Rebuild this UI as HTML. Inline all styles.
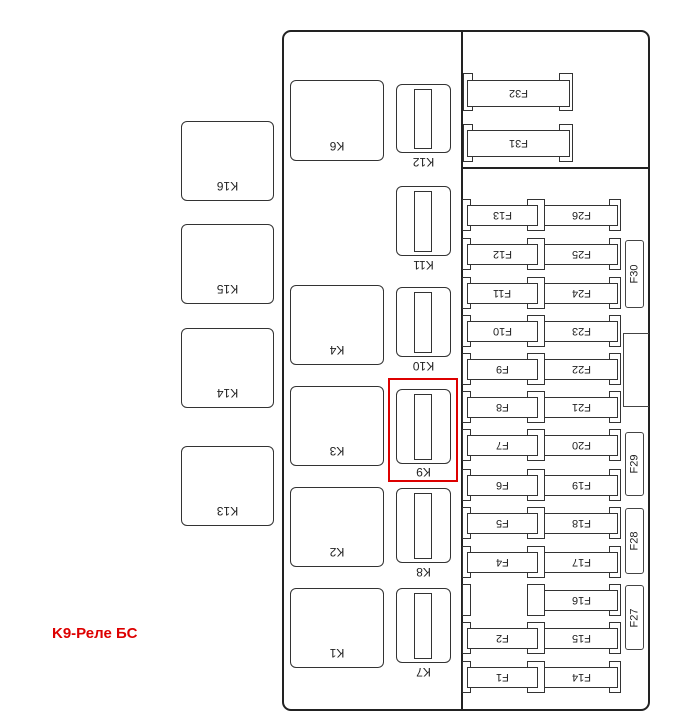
<!DOCTYPE html>
<html><head><meta charset="utf-8"><style>
body{margin:0;width:697px;height:728px;background:#fff;position:relative;overflow:hidden;font-family:"Liberation Sans",sans-serif}
div{position:absolute;box-sizing:border-box}
.box{border:1.5px solid #333;border-radius:6px;background:#fff}
.lab{font-size:12px;color:#222;transform:rotate(180deg);text-align:center;line-height:12px}
.t{border:1.5px solid #333;background:#fff;width:9px;height:32px}
.b{border:1.5px solid #333;background:#fff;height:21px;font-size:11px;color:#222;text-align:center;line-height:18px}
.b span{display:inline-block;transform:rotate(180deg)}
.v{border:1.3px solid #444;border-radius:3px;background:#fff;width:19px}
.v span{position:absolute;left:2px;top:50%;font-size:11px;transform:translate(-3px,-50%) rotate(-90deg);white-space:nowrap;color:#222}
</style></head><body>
<div style="left:282px;top:30px;width:368px;height:681px;border:2px solid #222;border-radius:9px"></div>
<div style="left:461px;top:31px;width:2px;height:680px;background:#222"></div>
<div style="left:462px;top:167px;width:187px;height:2px;background:#222"></div>

<!-- left relays -->
<div class="box" style="left:181px;top:121px;width:93px;height:80px"><div class="lab" style="left:0;right:0;top:58px">K16</div></div>
<div class="box" style="left:181px;top:224px;width:93px;height:80px"><div class="lab" style="left:0;right:0;top:58px">K15</div></div>
<div class="box" style="left:181px;top:328px;width:93px;height:80px"><div class="lab" style="left:0;right:0;top:58px">K14</div></div>
<div class="box" style="left:181px;top:446px;width:93px;height:80px"><div class="lab" style="left:0;right:0;top:58px">K13</div></div>

<div class="box" style="left:290px;top:80px;width:94px;height:81px"><div class="lab" style="left:0;right:0;top:59px">K6</div></div>
<div class="box" style="left:290px;top:285px;width:94px;height:80px"><div class="lab" style="left:0;right:0;top:58px">K4</div></div>
<div class="box" style="left:290px;top:386px;width:94px;height:80px"><div class="lab" style="left:0;right:0;top:58px">K3</div></div>
<div class="box" style="left:290px;top:487px;width:94px;height:80px"><div class="lab" style="left:0;right:0;top:58px">K2</div></div>
<div class="box" style="left:290px;top:588px;width:94px;height:80px"><div class="lab" style="left:0;right:0;top:58px">K1</div></div>

<!-- small relays -->
<div class="box" style="left:396px;top:84px;width:55px;height:69px"><div style="left:17px;top:4px;width:18px;height:60px;border:1.3px solid #333"></div></div><div class="lab" style="left:396px;width:55px;top:156px">K12</div>
<div class="box" style="left:396px;top:186px;width:55px;height:70px"><div style="left:17px;top:4px;width:18px;height:61px;border:1.3px solid #333"></div></div><div class="lab" style="left:396px;width:55px;top:259px">K11</div>
<div class="box" style="left:396px;top:287px;width:55px;height:70px"><div style="left:17px;top:4px;width:18px;height:61px;border:1.3px solid #333"></div></div><div class="lab" style="left:396px;width:55px;top:360px">K10</div>
<div class="box" style="left:396px;top:389px;width:55px;height:75px"><div style="left:17px;top:4px;width:18px;height:66px;border:1.3px solid #333"></div></div><div class="lab" style="left:396px;width:55px;top:466px">K9</div>
<div class="box" style="left:396px;top:488px;width:55px;height:75px"><div style="left:17px;top:4px;width:18px;height:66px;border:1.3px solid #333"></div></div><div class="lab" style="left:396px;width:55px;top:566px">K8</div>
<div class="box" style="left:396px;top:588px;width:55px;height:75px"><div style="left:17px;top:4px;width:18px;height:66px;border:1.3px solid #333"></div></div><div class="lab" style="left:396px;width:55px;top:666px">K7</div>

<div style="left:388px;top:378px;width:70px;height:104px;border:2.5px solid #d00"></div>
<div style="left:52px;top:625px;color:#d00;font-weight:bold;font-size:15px">K9-Реле БС</div>

<!-- F32/F31 -->
<div class="t" style="left:463px;top:73px;width:10px;height:38px"></div><div class="t" style="left:559px;top:73px;width:14px;height:38px"></div>
<div class="b" style="left:467px;top:80px;width:103px;height:27px;line-height:24px"><span>F32</span></div>
<div class="t" style="left:463px;top:124px;width:10px;height:38px"></div><div class="t" style="left:559px;top:124px;width:14px;height:38px"></div>
<div class="b" style="left:467px;top:130px;width:103px;height:27px;line-height:24px"><span>F31</span></div>

<!-- fuse rows -->
<div class="t" style="left:462px;top:199px"></div><div class="t" style="left:527px;top:199px;width:18px"></div><div class="t" style="left:609px;top:199px;width:12px"></div><div class="b" style="left:467px;top:205px;width:71px"><span>F13</span></div><div class="b" style="left:544px;top:205px;width:74px"><span>F26</span></div>
<div class="t" style="left:462px;top:238px"></div><div class="t" style="left:527px;top:238px;width:18px"></div><div class="t" style="left:609px;top:238px;width:12px"></div><div class="b" style="left:467px;top:244px;width:71px"><span>F12</span></div><div class="b" style="left:544px;top:244px;width:74px"><span>F25</span></div>
<div class="t" style="left:462px;top:277px"></div><div class="t" style="left:527px;top:277px;width:18px"></div><div class="t" style="left:609px;top:277px;width:12px"></div><div class="b" style="left:467px;top:283px;width:71px"><span>F11</span></div><div class="b" style="left:544px;top:283px;width:74px"><span>F24</span></div>
<div class="t" style="left:462px;top:315px"></div><div class="t" style="left:527px;top:315px;width:18px"></div><div class="t" style="left:609px;top:315px;width:12px"></div><div class="b" style="left:467px;top:321px;width:71px"><span>F10</span></div><div class="b" style="left:544px;top:321px;width:74px"><span>F23</span></div>
<div class="t" style="left:462px;top:353px"></div><div class="t" style="left:527px;top:353px;width:18px"></div><div class="t" style="left:609px;top:353px;width:12px"></div><div class="b" style="left:467px;top:359px;width:71px"><span>F9</span></div><div class="b" style="left:544px;top:359px;width:74px"><span>F22</span></div>
<div class="t" style="left:462px;top:391px"></div><div class="t" style="left:527px;top:391px;width:18px"></div><div class="t" style="left:609px;top:391px;width:12px"></div><div class="b" style="left:467px;top:397px;width:71px"><span>F8</span></div><div class="b" style="left:544px;top:397px;width:74px"><span>F21</span></div>
<div class="t" style="left:462px;top:429px"></div><div class="t" style="left:527px;top:429px;width:18px"></div><div class="t" style="left:609px;top:429px;width:12px"></div><div class="b" style="left:467px;top:435px;width:71px"><span>F7</span></div><div class="b" style="left:544px;top:435px;width:74px"><span>F20</span></div>
<div class="t" style="left:462px;top:469px"></div><div class="t" style="left:527px;top:469px;width:18px"></div><div class="t" style="left:609px;top:469px;width:12px"></div><div class="b" style="left:467px;top:475px;width:71px"><span>F6</span></div><div class="b" style="left:544px;top:475px;width:74px"><span>F19</span></div>
<div class="t" style="left:462px;top:507px"></div><div class="t" style="left:527px;top:507px;width:18px"></div><div class="t" style="left:609px;top:507px;width:12px"></div><div class="b" style="left:467px;top:513px;width:71px"><span>F5</span></div><div class="b" style="left:544px;top:513px;width:74px"><span>F18</span></div>
<div class="t" style="left:462px;top:546px"></div><div class="t" style="left:527px;top:546px;width:18px"></div><div class="t" style="left:609px;top:546px;width:12px"></div><div class="b" style="left:467px;top:552px;width:71px"><span>F4</span></div><div class="b" style="left:544px;top:552px;width:74px"><span>F17</span></div>
<div class="t" style="left:462px;top:584px"></div><div class="t" style="left:527px;top:584px;width:18px"></div><div class="t" style="left:609px;top:584px;width:12px"></div><div class="b" style="left:544px;top:590px;width:74px"><span>F16</span></div>
<div class="t" style="left:462px;top:622px"></div><div class="t" style="left:527px;top:622px;width:18px"></div><div class="t" style="left:609px;top:622px;width:12px"></div><div class="b" style="left:467px;top:628px;width:71px"><span>F2</span></div><div class="b" style="left:544px;top:628px;width:74px"><span>F15</span></div>
<div class="t" style="left:462px;top:661px"></div><div class="t" style="left:527px;top:661px;width:18px"></div><div class="t" style="left:609px;top:661px;width:12px"></div><div class="b" style="left:467px;top:667px;width:71px"><span>F1</span></div><div class="b" style="left:544px;top:667px;width:74px"><span>F14</span></div>

<!-- vertical fuses -->
<div class="v" style="left:625px;top:240px;height:68px"><span>F30</span></div>
<div style="left:623px;top:333px;width:26px;height:74px;border:1.3px solid #444;border-right:none"></div>
<div class="v" style="left:625px;top:432px;height:64px"><span>F29</span></div>
<div class="v" style="left:625px;top:508px;height:66px"><span>F28</span></div>
<div class="v" style="left:625px;top:585px;height:65px"><span>F27</span></div>
</body></html>
